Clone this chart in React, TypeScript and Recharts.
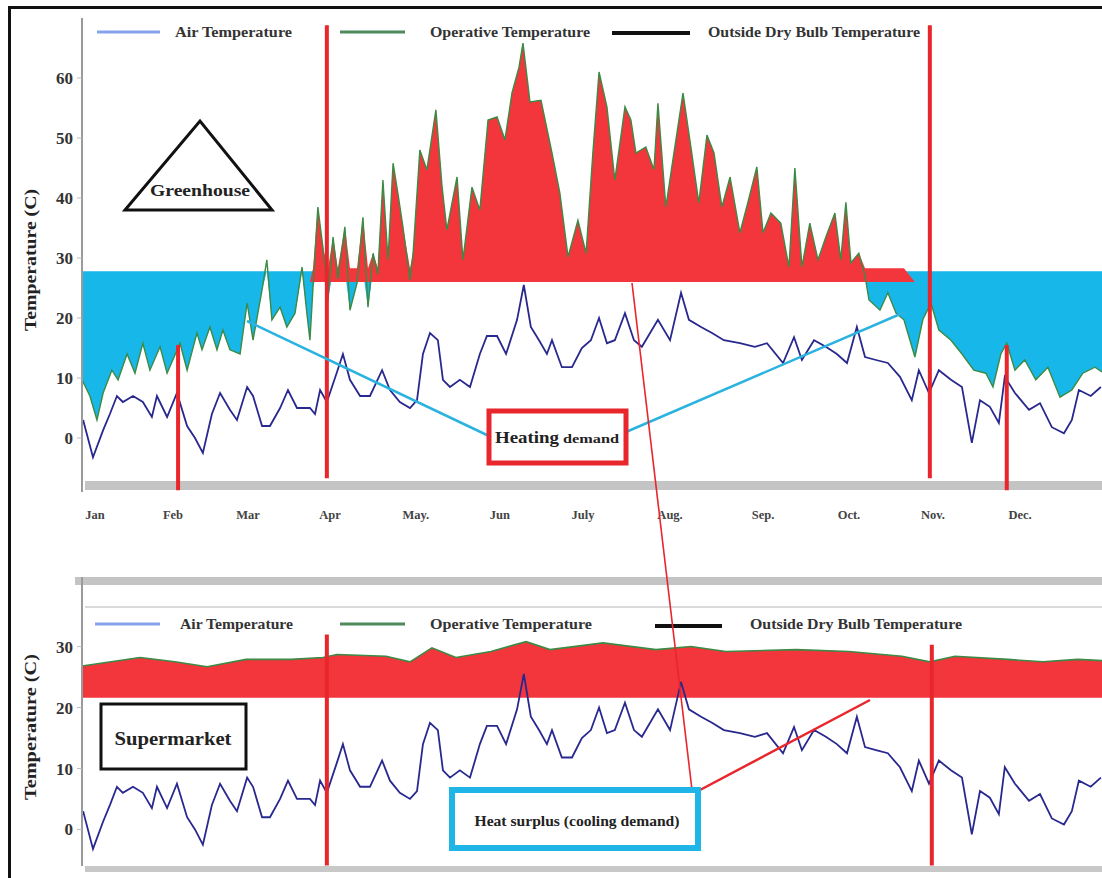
import React from 'react';
import { ComposedChart, Area, Line, XAxis, YAxis, ReferenceLine } from 'recharts';

// ---------- data ----------
// day of year (x) for the outside dry bulb temperature series
const outdoorDays = [0.4, 3.9, 7.5, 9.9, 12.4, 14.5, 18.1, 21.6, 24.8, 26.6, 30.2, 33.7, 37.3, 40.1, 42.9, 46.1, 49, 52.5, 55, 58.6, 60.7, 63.9, 66.7, 70.3, 73.1, 76.3, 80.9, 82.7, 84.5, 86.9, 90.5, 92.6, 95.1, 98.7, 102.2, 106.5, 109.3, 112.8, 116.4, 118.9, 121, 123.5, 126.3, 128.1, 130.6, 134.1, 137.7, 141.2, 143.7, 147.3, 150.5, 154.4, 156.8, 159.3, 162.2, 165, 166.8, 170.3, 173.9, 177.4, 180.6, 183.5, 186.3, 189.1, 192.7, 195.9, 198.7, 204.4, 208.7, 212.6, 215.4, 219.7, 223.6, 227.8, 233.5, 238.8, 243.1, 248.8, 252.7, 255.5, 259.8, 264, 267.9, 271.5, 275, 277.9, 281.8, 286, 290.3, 294.5, 297, 300.6, 304.1, 308.4, 312.3, 315.8, 318.7, 322.2, 325.4, 327.5, 331.1, 336.1, 340, 344.2, 348.5, 351.3, 353.8, 358, 361.6];
const outdoorTemp = [3, -3.2, 1.3, 4, 7, 6, 7, 6, 3.5, 7, 3.5, 7.5, 2, 0, -2.5, 4, 7.5, 4.7, 3, 8.5, 7, 2, 2, 5, 8, 5, 5, 4, 8, 6, 11, 14, 9.7, 7, 7, 11.3, 8, 6, 5, 6.3, 14, 17.5, 16.3, 9.7, 8.5, 9.7, 8.5, 14, 17, 17, 14, 19.7, 25.5, 18.5, 16.3, 14, 16.3, 11.8, 11.8, 15, 16.3, 20, 15.8, 16.3, 20.8, 16.3, 15.2, 19.7, 16.3, 24.2, 19.7, 18.5, 17.5, 16.3, 15.8, 15.2, 15.8, 12.5, 16.8, 13, 16.3, 15.2, 14, 12.5, 18.5, 13.5, 13, 12.5, 10.2, 6.3, 11.3, 7.5, 11.3, 9.7, 8.5, -0.8, 6.3, 5.2, 2.5, 10.2, 7.5, 4.7, 5.8, 1.8, 0.8, 3, 8, 7, 8.5];

// greenhouse operative temperature
const greenhouseDays = [0, 2.8, 5.3, 7.5, 10.6, 12.8, 16, 18.8, 21.6, 24.1, 27.7, 30.2, 34.8, 37.3, 40.8, 42.6, 45.4, 47.9, 50, 52.5, 56.1, 58.6, 60.7, 63.9, 65.6, 67.4, 70.3, 72.7, 75.6, 78.1, 79.8, 80.9, 82, 83.7, 85.5, 87.3, 89.1, 90.8, 93.3, 95.1, 97.6, 99.7, 101.5, 103.3, 105, 106.8, 108.6, 110.4, 112.1, 113.9, 116.4, 117.5, 119.9, 122.4, 125.6, 127.8, 129.5, 133.1, 135.2, 138.4, 141.2, 144.1, 147.3, 150.1, 152.6, 155.1, 156.5, 159, 162.9, 166.8, 169.6, 172.5, 176, 178.9, 181.3, 183.5, 186.3, 189.1, 192.7, 194.8, 196.6, 200.1, 203, 204.4, 207.2, 209.7, 213.3, 216.1, 218.9, 221.8, 224.3, 227.1, 230, 233.5, 236.3, 239.5, 241.7, 244.5, 248, 250.9, 253, 255.5, 258.3, 261.2, 264, 267.2, 269.3, 271.1, 272.9, 275.7, 277.9, 279.3, 283.2, 286, 288.9, 291.7, 295.6, 298.4, 301.3, 304.1, 308.4, 312.3, 316.5, 320.8, 323.3, 326.1, 328.2, 331.1, 334.6, 338.5, 342.8, 347.1, 351.3, 355.2, 359.5, 362];
const greenhouseTemp = [9.7, 7, 3, 7.5, 11.3, 9.7, 14, 10.8, 15.8, 11.3, 15.2, 10.8, 15.8, 11.3, 17.5, 14.7, 18.5, 14.7, 18, 14.7, 14, 22.5, 16.3, 24.7, 29.7, 19.7, 21.8, 18.5, 20.8, 28.5, 20.8, 16.3, 25.2, 38.5, 31.8, 23, 33.5, 26.5, 35.2, 21.3, 25.8, 36.8, 21.8, 30.8, 27.3, 43, 29.7, 45.8, 40.8, 35.2, 26.3, 30.8, 48, 44.7, 54.7, 41.8, 34.7, 43.5, 29.7, 41.8, 38, 53, 53.5, 49.7, 57.5, 61.8, 65.8, 56, 56.3, 47.5, 40.8, 30.2, 36.3, 30.8, 47.5, 61, 55.2, 43, 55.2, 53, 47.5, 48.5, 44.7, 55.8, 38.5, 46.3, 57.5, 48.5, 39.2, 50.5, 47.5, 38.5, 43.5, 34.2, 39.2, 45.2, 34.2, 37.5, 35.8, 28.5, 45, 28.5, 35.8, 29.7, 33.5, 37.5, 29.7, 39.3, 29.2, 30.8, 27, 23, 21.3, 24.2, 20.8, 19.7, 13.5, 19.7, 22.5, 18, 16.3, 14, 11.3, 10.8, 8.5, 14, 15.8, 11.3, 13, 9.7, 11.8, 6.8, 8, 10.8, 11.8, 11];

// supermarket operative temperature (top of the red band)
const supermarketDays = [0, 20.6, 33, 44.4, 58.2, 74.2, 85.5, 90.5, 107.9, 116.4, 124.2, 132.7, 145.1, 157.6, 166.1, 184.9, 203.7, 216.1, 228.5, 253.4, 272.2, 291, 300.9, 309.8, 328.6, 341, 353.4, 362];
const supermarketTemp = [26.8, 28.2, 27.5, 26.7, 27.9, 27.9, 28.2, 28.7, 28.4, 27.5, 29.8, 28.2, 29.2, 30.8, 29.5, 30.6, 29.5, 30, 29.2, 29.5, 29.2, 28.4, 27.5, 28.4, 27.9, 27.5, 27.9, 27.7];

const monthTickDays = [4.6, 32.3, 58.9, 88, 118.5, 148.3, 177.8, 208.7, 241.7, 272.2, 302, 332.9];
const monthLabels = ['Jan', 'Feb', 'Mar', 'Apr', 'May.', 'Jun', 'July', 'Aug.', 'Sep.', 'Oct.', 'Nov.', 'Dec.'];
const topTicks = [0, 10, 20, 30, 40, 50, 60];
const bottomTicks = [0, 10, 20, 30];

const heatSetpoint = 27.8;
const coolBase = 26;
const coolBandTop = 28.3;
const coolStartDay = 82;
const coolEndDay = 294;
const supermarketBase = 21.6;

// period markers (day, from value, to value)
const topMarkers = [
  { day: 34.1, from: 15.5, to: -8.7 },
  { day: 86.9, from: 68.8, to: -6.7 },
  { day: 300.9, from: 68.8, to: -6.7 },
  { day: 328.2, from: 15.5, to: -8.7 },
];
const bottomMarkers = [
  { day: 86.9, from: 32, to: -5.9 },
  { day: 301.6, from: 30.3, to: -5.9 },
];

// ---------- derived tables ----------
const outData = outdoorDays.map((d, i) => ({ day: d, t: outdoorTemp[i] }));
const ghData = greenhouseDays.map((d, i) => {
  const g = greenhouseTemp[i];
  const active = d >= coolStartDay && d <= coolEndDay;
  return {
    day: d,
    g,
    heat: [Math.min(g, heatSetpoint), heatSetpoint],
    cool: active ? [coolBase, Math.max(g, coolBandTop)] : [coolBase, coolBase],
  };
});
const smData = supermarketDays.map((d, i) => ({
  day: d,
  band: [supermarketBase, supermarketTemp[i]],
  t: supermarketTemp[i],
}));

const SERIF = "'Liberation Serif', 'DejaVu Serif', serif";
const RED = '#f2363c';
const CYAN = '#17b7ea';
const NAVY = '#28288f';
const GREEN = '#3c8a45';

const abs = (s: React.CSSProperties): React.CSSProperties => ({ position: 'absolute', ...s });

export default function App() {
  return (
    <div style={abs({ left: 0, top: 0, width: 1102, height: 878, overflow: 'hidden', background: '#fff', margin: 0 })}>
      {/* frame and gray bands */}
      <div style={abs({ left: 8, top: 6, width: 1120, height: 900, border: '3px solid #111', boxSizing: 'border-box' })} />
      <div style={abs({ left: 85, top: 481, width: 1020, height: 9, background: '#c4c4c4' })} />
      <div style={abs({ left: 75, top: 577, width: 1030, height: 8, background: '#c4c4c4' })} />
      <div style={abs({ left: 85, top: 606, width: 1020, height: 2, background: '#dadada' })} />
      <div style={abs({ left: 85, top: 866, width: 1020, height: 6, background: '#c8c8c8' })} />
      <div style={abs({ left: 81, top: 577, width: 2, height: 35, background: '#9a9a9a' })} />

      {/* Greenhouse chart */}
      <div style={abs({ left: 0, top: 0 })}>
        <ComposedChart width={1110} height={532} margin={{ top: 18, right: 8, left: 0, bottom: 0 }}>
          <XAxis
            dataKey="day"
            type="number"
            domain={[0, 362]}
            ticks={monthTickDays}
            interval={0}
            tickFormatter={(v: number) => monthLabels[monthTickDays.indexOf(v)]}
            tick={{ fontSize: 12.5, fontWeight: 'bold', fill: '#444', fontFamily: SERIF }}
            tickLine={false}
            axisLine={false}
            tickMargin={12}
            height={40}
          />
          <YAxis
            type="number"
            domain={[-9, 70]}
            ticks={topTicks}
            allowDataOverflow
            width={82}
            tick={{ fontSize: 17, fontWeight: 'bold', fill: '#333', fontFamily: SERIF }}
            axisLine={{ stroke: '#9a9a9a', strokeWidth: 2 }}
            tickLine={{ stroke: '#bbb' }}
            tickSize={5}
            tickMargin={4}
          />
          <Area data={ghData} dataKey="heat" type="linear" stroke="none" fill={CYAN} fillOpacity={1} isAnimationActive={false} />
          <Area data={ghData} dataKey="cool" type="linear" stroke="none" fill={RED} fillOpacity={1} isAnimationActive={false} />
          <Line data={ghData} dataKey="g" type="linear" stroke={GREEN} strokeWidth={1.4} dot={false} isAnimationActive={false} />
          <Line data={outData} dataKey="t" type="linear" stroke={NAVY} strokeWidth={1.8} dot={false} isAnimationActive={false} />
          {topMarkers.map((m, i) => (
            <ReferenceLine key={i} segment={[{ x: m.day, y: m.from }, { x: m.day, y: m.to }]} stroke="#e8262c" strokeWidth={4} ifOverflow="visible" />
          ))}
        </ComposedChart>
      </div>

      {/* Supermarket chart */}
      <div style={abs({ left: 0, top: 590 })}>
        <ComposedChart width={1110} height={286} margin={{ top: 20, right: 8, left: 0, bottom: 10 }}>
          <XAxis dataKey="day" type="number" domain={[0, 362]} hide />
          <YAxis
            type="number"
            domain={[-6, 36]}
            ticks={bottomTicks}
            allowDataOverflow
            width={82}
            tick={{ fontSize: 17, fontWeight: 'bold', fill: '#333', fontFamily: SERIF }}
            axisLine={{ stroke: '#9a9a9a', strokeWidth: 2 }}
            tickLine={{ stroke: '#bbb' }}
            tickSize={5}
            tickMargin={4}
          />
          <Area data={smData} dataKey="band" type="linear" stroke="none" fill={RED} fillOpacity={1} isAnimationActive={false} />
          <Line data={smData} dataKey="t" type="linear" stroke={GREEN} strokeWidth={1.6} dot={false} isAnimationActive={false} />
          <Line data={outData} dataKey="t" type="linear" stroke={NAVY} strokeWidth={1.8} dot={false} isAnimationActive={false} />
          {bottomMarkers.map((m, i) => (
            <ReferenceLine key={i} segment={[{ x: m.day, y: m.from }, { x: m.day, y: m.to }]} stroke="#e8262c" strokeWidth={4} ifOverflow="visible" />
          ))}
        </ComposedChart>
      </div>

      {/* legends, labels and callouts */}
      <svg width={1102} height={878} style={abs({ left: 0, top: 0, pointerEvents: 'none' })} fontFamily={SERIF} fontWeight="bold">
        {/* top legend */}
        <line x1={97} y1={32} x2={160} y2={32} stroke="#86a2ec" strokeWidth={3} />
        <text x={175} y={37} fontSize={14} fill="#333" textLength={117} lengthAdjust="spacingAndGlyphs">Air Temperature</text>
        <line x1={340} y1={32} x2={405} y2={32} stroke="#4d8a5c" strokeWidth={3} />
        <text x={430} y={37} fontSize={14} fill="#333" textLength={160} lengthAdjust="spacingAndGlyphs">Operative Temperature</text>
        <line x1={612} y1={33} x2={690} y2={33} stroke="#111" strokeWidth={4} />
        <text x={708} y={37} fontSize={14} fill="#333" textLength={212} lengthAdjust="spacingAndGlyphs">Outside Dry Bulb Temperature</text>

        {/* bottom legend */}
        <line x1={95} y1={624} x2={160} y2={624} stroke="#86a2ec" strokeWidth={3} />
        <text x={180} y={629} fontSize={14} fill="#333" textLength={113} lengthAdjust="spacingAndGlyphs">Air Temperature</text>
        <line x1={340} y1={624} x2={405} y2={624} stroke="#4d8a5c" strokeWidth={3} />
        <text x={430} y={629} fontSize={14} fill="#333" textLength={162} lengthAdjust="spacingAndGlyphs">Operative Temperature</text>
        <line x1={655} y1={626} x2={722} y2={626} stroke="#111" strokeWidth={4} />
        <text x={750} y={629} fontSize={14} fill="#333" textLength={212} lengthAdjust="spacingAndGlyphs">Outside Dry Bulb Temperature</text>

        {/* axis titles */}
        <text transform="translate(36,260) rotate(-90)" textAnchor="middle" fontSize={16} fill="#222" textLength={142} lengthAdjust="spacingAndGlyphs">Temperature (C)</text>
        <text transform="translate(36,727) rotate(-90)" textAnchor="middle" fontSize={16} fill="#222" textLength={146} lengthAdjust="spacingAndGlyphs">Temperature (C)</text>

        {/* greenhouse triangle */}
        <polygon points="125,210 200,121 272,210" fill="#fff" stroke="#111" strokeWidth={3} />
        <text x={200} y={196} textAnchor="middle" fontSize={17} fill="#222" textLength={100} lengthAdjust="spacingAndGlyphs">Greenhouse</text>

        {/* heating demand callout */}
        <line x1={247} y1={321} x2={489} y2={436} stroke="#2bb3df" strokeWidth={2.5} />
        <line x1={626} y1={432} x2={905} y2={312} stroke="#2bb3df" strokeWidth={2.5} />
        <rect x={489} y={411} width={137} height={52} fill="#fff" stroke="#e8262c" strokeWidth={5} />
        <text x={495} y={443} fontSize={17} fill="#222" textLength={64} lengthAdjust="spacingAndGlyphs">Heating</text>
        <text x={563} y={443} fontSize={13.5} fill="#222" textLength={56} lengthAdjust="spacingAndGlyphs">demand</text>

        {/* cross-chart red pointer */}
        <line x1={632} y1={283} x2={692} y2={790} stroke="#e8262c" strokeWidth={1.6} />
        <line x1={700} y1={790} x2={870} y2={700} stroke="#e8262c" strokeWidth={2.5} />

        {/* heat surplus callout */}
        <rect x={452} y={790} width={246} height={58} fill="#fff" stroke="#1fb5e6" strokeWidth={6} />
        <text x={577} y={826} textAnchor="middle" fontSize={15} fill="#222" textLength={205} lengthAdjust="spacingAndGlyphs">Heat surplus (cooling demand)</text>

        {/* supermarket label */}
        <rect x={101} y={704} width={145} height={65} fill="#fff" stroke="#111" strokeWidth={3} />
        <text x={173} y={745} textAnchor="middle" fontSize={18} fill="#222" textLength={117} lengthAdjust="spacingAndGlyphs">Supermarket</text>
      </svg>
    </div>
  );
}
